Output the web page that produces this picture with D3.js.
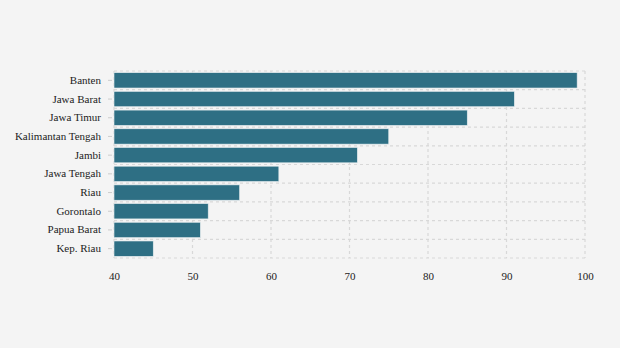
<!DOCTYPE html>
<html><head><meta charset="utf-8">
<script src="https://cdn.jsdelivr.net/npm/d3@7"></script>
<style>
html,body{margin:0;padding:0;background:#f4f4f4;}
svg{display:block;}
text{font-family:"Liberation Serif","Times New Roman",serif;fill:#222;}
</style></head>
<body><svg id="c" width="620" height="348"></svg>
<script>
const categories = ["Banten","Jawa Barat","Jawa Timur","Kalimantan Tengah","Jambi","Jawa Tengah","Riau","Gorontalo","Papua Barat","Kep. Riau"];
const values = [99,91,85,75,71,61,56,52,51,45];
const xTicks = [40,50,60,70,80,90,100];

const svg = d3.select("#c");
const W=620,H=348;
svg.append("rect").attr("width",W).attr("height",H).attr("fill","#f4f4f4");
const m={left:114,right:35,top:71,bottom:90};
const x=d3.scaleLinear().domain([40,100]).range([m.left,W-m.right]);
const y=d3.scaleBand().domain(categories).range([m.top,H-m.bottom]).paddingInner(0.18).paddingOuter(0.09);
const g=svg.append("g");
const step=y.step();
// horizontal gridlines at band boundaries
const bounds=categories.map(c=>y(c)-y.step()*y.paddingInner()/2);
bounds.push(y(categories[categories.length-1])+y.bandwidth()+y.step()*y.paddingInner()/2);
g.selectAll("line.h").data(bounds).join("line")
 .attr("x1",m.left).attr("x2",x(100)).attr("y1",d=>d).attr("y2",d=>d)
 .attr("stroke","#d8d8d8").attr("stroke-width",1.2).attr("stroke-dasharray","3,3");
g.selectAll("line.v").data(xTicks).join("line")
 .attr("x1",d=>x(d)).attr("x2",d=>x(d)).attr("y1",bounds[0]).attr("y2",bounds[bounds.length-1])
 .attr("stroke","#d8d8d8").attr("stroke-width",1.2).attr("stroke-dasharray","3,3");
// bars
g.selectAll("rect.bar").data(categories).join("rect")
 .attr("x",x(40)).attr("y",d=>y(d)).attr("height",y.bandwidth())
 .attr("width",(d,i)=>x(values[i])-x(40))
 .attr("fill","#2e6f84").attr("stroke","#e8eef0").attr("stroke-width",0.6);
// y axis
const ya=svg.append("g").attr("transform",`translate(${m.left-2},0)`)
 .call(d3.axisLeft(y).tickSize(4).tickPadding(7));
ya.select(".domain").remove();
ya.selectAll(".tick line").attr("stroke","#cccccc");
ya.selectAll("text").attr("font-size","11px").attr("font-family","Liberation Serif, serif").attr("fill","#222");
// x axis
const xa=svg.append("g").attr("transform",`translate(0,${bounds[bounds.length-1]})`)
 .call(d3.axisBottom(x).tickValues(xTicks).tickSize(0).tickPadding(14));
xa.select(".domain").remove();
xa.selectAll("text").attr("font-size","11px").attr("font-family","Liberation Serif, serif").attr("fill","#222");
</script></body></html>
